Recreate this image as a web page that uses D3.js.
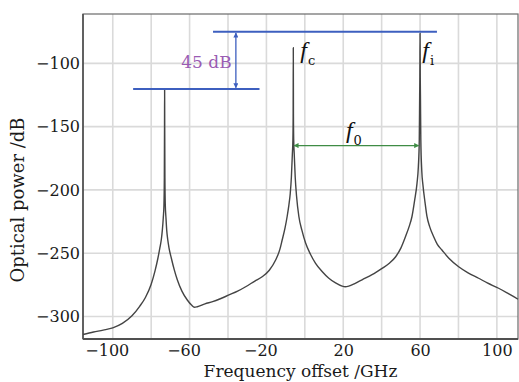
<!DOCTYPE html>
<html>
<head>
<meta charset="utf-8">
<script src="https://cdn.jsdelivr.net/npm/d3@7"></script>
<style>
  body { margin: 0; background: #fff; }
  svg { display: block; }
</style>
</head>
<body>
<div id="chart"></div>
<script>
// Spectrum: frequency offset (GHz) and optical power (dB)
var freq = [
  -115.5, -110, -105, -100, -95, -90, -86, -83, -80, -78, -76.5, -75.5, -74.7, -74.2,
  -73.7, -73.35, -73.15, -73.05, -73.0, -72.95, -72.85, -72.65, -72.3, -71.9, -71.4,
  -70.7, -69.5, -68, -66.4, -64, -61.2, -59, -57.5, -56, -52, -48, -44, -39.5, -35,
  -30.8, -26, -22.2, -18.5, -15.2, -13, -11.8, -10.3, -9.2, -8.3, -7.6, -7.0, -6.5,
  -6.2, -6.08, -6.0, -5.92, -5.8, -5.5, -5.0, -4.3, -3.1, -1.5, 0.4, 3, 5.6, 9, 12.5,
  16, 19.4, 21, 22.9, 26, 29.8, 35, 40.2, 44, 47.2, 50, 52.4, 54.3, 55.8, 57.2, 58.4,
  59.1, 59.6, 59.8, 59.9, 60.0, 60.1, 60.2, 60.4, 60.9, 61.5, 62.6, 63.6, 65.0, 67.1,
  69, 71.4, 75, 80.1, 85, 90.5, 95, 100.9, 106, 111
];
var power = [
  -314.2, -312.3, -310.8, -309, -305.5, -299.5, -292, -285, -274.5, -264, -254, -246, -239, -232,
  -222, -212, -190, -150, -120.3, -150, -190, -212, -222, -232, -239,
  -246, -254, -263, -271, -280, -287, -291, -292.7, -292.3, -290, -288.3, -286, -283, -280,
  -276.5, -272, -268.6, -263.5, -255.4, -247, -239.6, -230, -221, -212, -203, -190, -172,
  -160, -142, -87.7, -142, -160, -172, -190, -205, -221, -232, -242, -251, -258, -264.5, -269.8,
  -273.5, -276, -276.5, -276, -274, -271, -267, -262, -258, -253, -246, -237, -229, -221, -208, -195,
  -182, -160, -125, -110, -76.3, -110, -125, -160, -185, -196, -210, -221, -229, -237,
  -243, -247.5, -254, -260.7, -265.5, -269.8, -273.5, -277.7, -282, -286.4
];

var xTicks = [-100, -60, -20, 20, 60, 100];
var xGrid = [-100, -80, -60, -40, -20, 0, 20, 40, 60, 80, 100];
var yTicks = [-300, -250, -200, -150, -100];

var margin = { top: 14, right: 1, bottom: 43, left: 83 },
    width = 519 - margin.left - margin.right,
    height = 382 - margin.top - margin.bottom;

var svg = d3.select("#chart")
  .append("svg")
  .attr("width", 519)
  .attr("height", 382);

var g = svg.append("g")
  .attr("transform", "translate(" + margin.left + "," + margin.top + ")");

var x = d3.scaleLinear().domain([-115.5, 111]).range([0, width]);
var y = d3.scaleLinear().domain([-317.8, -61]).range([height, 0]);

var fmt = function(d) { return d < 0 ? "\u2212" + Math.abs(d) : "" + d; };

// grid
g.append("g")
  .selectAll("line.vg")
  .data(xGrid)
  .enter()
  .append("line")
  .attr("x1", function(d) { return x(d); })
  .attr("x2", function(d) { return x(d); })
  .attr("y1", 0)
  .attr("y2", height)
  .attr("stroke", "#dadada")
  .attr("stroke-width", 1.6);

g.append("g")
  .selectAll("line.hg")
  .data(yTicks)
  .enter()
  .append("line")
  .attr("x1", 0)
  .attr("x2", width)
  .attr("y1", function(d) { return y(d); })
  .attr("y2", function(d) { return y(d); })
  .attr("stroke", "#dadada")
  .attr("stroke-width", 1.6);

// axes (labels only, no tick marks)
var xAxis = g.append("g")
  .attr("transform", "translate(0," + height + ")")
  .call(d3.axisBottom(x).tickValues(xTicks).tickFormat(fmt).tickSize(0).tickPadding(6));
xAxis.select(".domain").remove();
xAxis.attr("font-family", null);
xAxis.selectAll("text")
  .attr("dx", function(d) { return d < 0 ? -6 : 0; })
  .style("font-family", "'DejaVu Serif', serif")
  .style("font-size", "16px")
  .attr("fill", "#1a1a1a");

var yAxis = g.append("g")
  .call(d3.axisLeft(y).tickValues(yTicks).tickFormat(fmt).tickSize(0).tickPadding(3));
yAxis.select(".domain").remove();
yAxis.attr("font-family", null);
yAxis.selectAll("text")
  .style("font-family", "'DejaVu Serif', serif")
  .style("font-size", "16px")
  .attr("fill", "#1a1a1a");

// frame
g.append("rect")
  .attr("x", 0).attr("y", 0)
  .attr("width", width).attr("height", height)
  .attr("fill", "none")
  .attr("stroke", "#6a6a6a")
  .attr("stroke-width", 1.2);
g.append("line")
  .attr("x1", 0).attr("x2", 0).attr("y1", 0).attr("y2", height)
  .attr("stroke", "#505050").attr("stroke-width", 1.6);
g.append("line")
  .attr("x1", 0).attr("x2", width).attr("y1", height).attr("y2", height)
  .attr("stroke", "#505050").attr("stroke-width", 1.8);

// spectrum
var pts = freq.map(function(f, i) { return { f: f, p: power[i] }; });
var line = d3.line()
  .x(function(d) { return x(d.f); })
  .y(function(d) { return y(d.p); })
  .curve(d3.curveMonotoneX);

g.append("path")
  .datum(pts)
  .attr("fill", "none")
  .attr("stroke", "#444")
  .attr("stroke-width", 1.4)
  .attr("d", line);

// annotations
var blue = "#3d5fbf", green = "#3f8c45", purple = "#9a5cb4";

var defs = svg.append("defs");
function arrowHead(id, color) {
  defs.append("marker")
    .attr("id", id)
    .attr("viewBox", "0 0 10 10")
    .attr("refX", 9).attr("refY", 5)
    .attr("markerWidth", 6).attr("markerHeight", 5)
    .attr("markerUnits", "userSpaceOnUse")
    .attr("orient", "auto-start-reverse")
    .append("path")
    .attr("d", "M0,0 L10,5 L0,10 z")
    .attr("fill", color);
}
arrowHead("ab", blue);
arrowHead("ag", green);

g.append("line")
  .attr("x1", x(-47.8)).attr("x2", x(68.8))
  .attr("y1", y(-75)).attr("y2", y(-75))
  .attr("stroke", blue).attr("stroke-width", 2);
g.append("line")
  .attr("x1", x(-89.4)).attr("x2", x(-23.6))
  .attr("y1", y(-120.2)).attr("y2", y(-120.2))
  .attr("stroke", blue).attr("stroke-width", 2);
g.append("line")
  .attr("x1", x(-35.9)).attr("x2", x(-35.9))
  .attr("y1", y(-76)).attr("y2", y(-119.2))
  .attr("stroke", blue).attr("stroke-width", 1.3)
  .attr("marker-start", "url(#ab)")
  .attr("marker-end", "url(#ab)");

g.append("text")
  .attr("x", x(-38.1)).attr("y", y(-103.7))
  .attr("text-anchor", "end")
  .style("font-family", "'DejaVu Serif', serif")
  .style("font-size", "17px")
  .attr("fill", purple)
  .text("45 dB");

g.append("line")
  .attr("x1", x(-5.6)).attr("x2", x(59.3))
  .attr("y1", y(-165)).attr("y2", y(-165))
  .attr("stroke", green).attr("stroke-width", 1.3)
  .attr("marker-start", "url(#ag)")
  .attr("marker-end", "url(#ag)");

function fLabel(fx, py, sub) {
  var t = g.append("text")
    .attr("x", x(fx)).attr("y", y(py))
    .attr("fill", "#111");
  t.append("tspan")
    .style("font-family", "'Liberation Serif', serif")
    .style("font-style", "italic")
    .style("font-size", "24px")
    .text("f");
  t.append("tspan")
    .attr("dx", 1).attr("dy", 7)
    .style("font-family", "'DejaVu Serif', serif")
    .style("font-size", "13px")
    .text(sub);
}
fLabel(-2.4, -95.5, "c");
fLabel(61.2, -95.5, "i");
fLabel(21.4, -159, "0");

// axis titles
svg.append("text")
  .attr("x", margin.left + width / 2)
  .attr("y", 377)
  .attr("text-anchor", "middle")
  .style("font-family", "'DejaVu Serif', serif")
  .style("font-size", "17px")
  .attr("fill", "#1a1a1a")
  .text("Frequency offset /GHz");

svg.append("text")
  .attr("transform", "translate(24,200) rotate(-90)")
  .attr("text-anchor", "middle")
  .style("font-family", "'DejaVu Serif', serif")
  .style("font-size", "18px")
  .attr("fill", "#1a1a1a")
  .text("Optical power /dB");
</script>
</body>
</html>
